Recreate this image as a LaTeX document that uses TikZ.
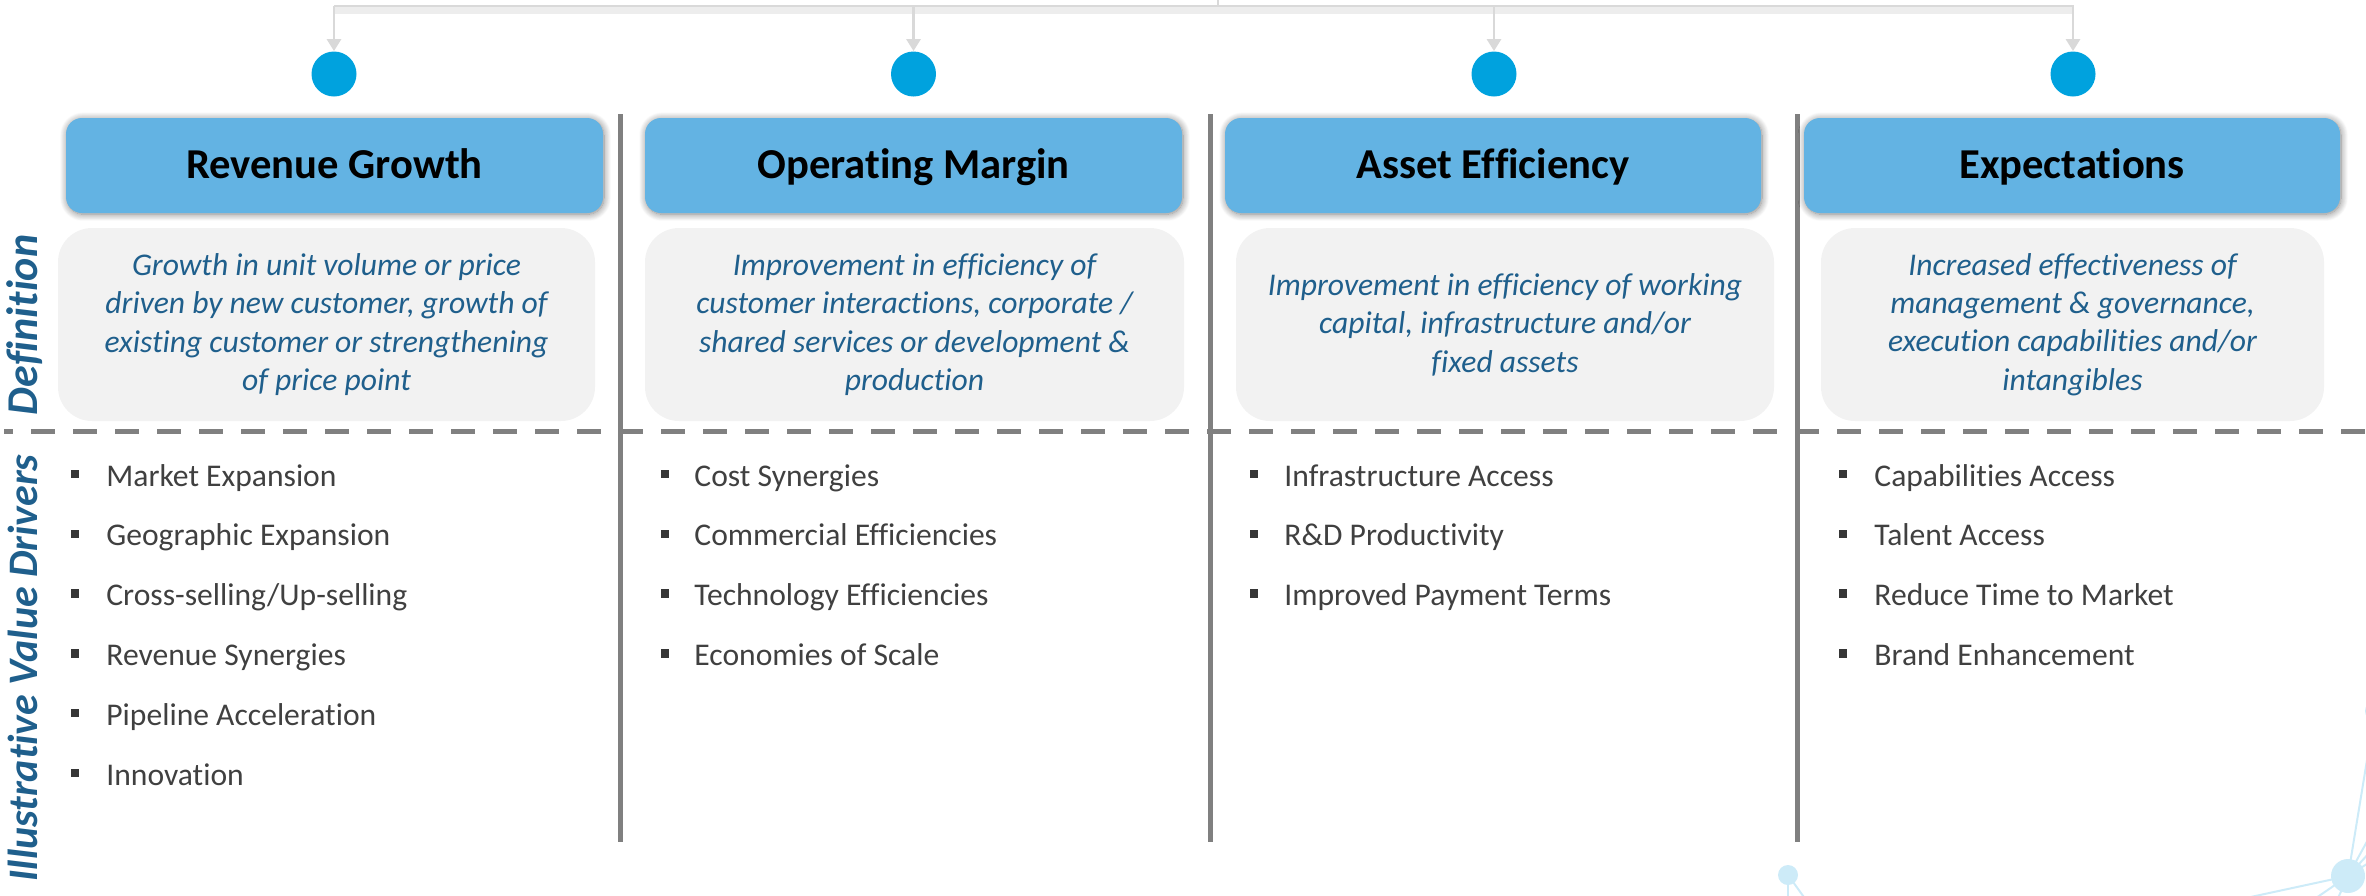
\documentclass[tikz,border=0pt]{standalone}
\usepackage{fontspec}
\setmainfont{Carlito}[Ligatures=NoCommon]
\usetikzlibrary{arrows.meta,shadows.blur}

\definecolor{hdrblue}{RGB}{99,179,227}
\definecolor{dotblue}{RGB}{0,162,222}
\definecolor{defgrey}{RGB}{242,242,242}
\definecolor{deftext}{RGB}{31,95,140}
\definecolor{rulegrey}{RGB}{128,128,128}
\definecolor{bodytext}{RGB}{64,64,64}
\definecolor{linkgrey}{RGB}{217,217,217}
\definecolor{netblue}{RGB}{205,235,248}

\tikzset{
  hdrbox/.style={fill=hdrblue, rounded corners=8pt, minimum height=47.5pt,
    inner sep=0pt, text height=13pt, text depth=0pt, text=black,
    font=\fontsize{21.3}{25}\selectfont\bfseries,
    blur shadow={shadow xshift=0.5pt, shadow yshift=-0.6pt,
      shadow blur radius=3.5pt, shadow blur steps=10, shadow opacity=50}},
  defbox/.style={fill=defgrey, rounded corners=17pt, minimum height=96.5pt,
    inner sep=0pt, align=center, text=deftext,
    font=\fontsize{15.8}{19.2}\selectfont\itshape},
  sidelabel/.style={rotate=90, anchor=base, inner sep=0pt, text=deftext,
    font=\fontsize{22}{26}\selectfont\bfseries\itshape},
  hubdot/.style={circle, fill=dotblue, minimum size=22.5pt, inner sep=0pt},
  feedline/.style={draw=linkgrey, line width=1.4pt},
  feedshadow/.style={draw=black, opacity=0.07, line width=4pt},
  feedarrow/.style={feedline, -{Triangle[width=7pt,length=6pt]}},
  divider/.style={draw=rulegrey, line width=2.5pt},
  sectionrule/.style={draw=rulegrey, line width=2.5pt,
    dash pattern=on 12pt off 9pt, dash phase=7.5pt},
  bulletmark/.style={fill=bodytext!85!black, minimum size=4.2pt, inner sep=0pt},
  bullettext/.style={anchor=base west, inner sep=0pt, text=bodytext,
    font=\fontsize{15.8}{19}\selectfont},
  netline/.style={draw=netblue, line width=1pt},
  netnode/.style={fill=netblue}
}

\begin{document}
\begin{tikzpicture}[x=0.5pt, y=-0.5pt]
  \useasboundingbox (0,0) rectangle (2366,895);
  \clip (0,0) rectangle (2366,895);

  % feed bus along the top, with a soft shadow under it
  \coordinate (feed) at (1218,-4);
  \coordinate (busL) at (334,6);
  \coordinate (busR) at (2074,6);
  \coordinate (tap1) at (334,6);
  \coordinate (tap2) at (913.5,6);
  \coordinate (tap3) at (1494,6);
  \coordinate (tap4) at (2073,6);
  \draw[feedshadow] ([yshift=-2pt]busL) -- ([yshift=-2pt]busR);

  % blue hub dots
  \node[hubdot] (dot1) at (334,74) {};
  \node[hubdot] (dot2) at (913.5,74) {};
  \node[hubdot] (dot3) at (1494,74) {};
  \node[hubdot] (dot4) at (2073,74) {};

  \draw[feedline] (feed) |- (busL);
  \draw[feedline] (busL) -- (busR);
  \foreach \i in {1,...,4}
    \draw[feedarrow] (tap\i) -- (dot\i.north);

  % column dividers
  \coordinate (divAt) at (620,114);  \coordinate (divAb) at (620,842);
  \coordinate (divBt) at (1210,114); \coordinate (divBb) at (1210,842);
  \coordinate (divCt) at (1797,114); \coordinate (divCb) at (1797,842);
  \draw[divider] (divAt) -- (divAb);
  \draw[divider] (divBt) -- (divBb);
  \draw[divider] (divCt) -- (divCb);

  % dashed rule between definitions and drivers
  \coordinate (ruleL) at (4,431);
  \coordinate (ruleR) at (2366,431);
  \draw[sectionrule] (ruleL) -- (ruleR);

  % column headers
  \node[hdrbox, minimum width=268.5pt] (hdr1) at (334.5,165.5) {Revenue Growth};
  \node[hdrbox, minimum width=268.5pt] (hdr2) at (913.5,165.5) {Operating Margin};
  \node[hdrbox, minimum width=268pt]   (hdr3) at (1493,165.5)  {Asset Efficiency};
  \node[hdrbox, minimum width=268pt]   (hdr4) at (2072,165.5)  {Expectations};

  % definitions
  \node[defbox, minimum width=268.5pt] (def1) at (326.5,324.5)
    {Growth in unit volume or price\\driven by new customer, growth of\\existing customer or strengthening\\of price point};
  \node[defbox, minimum width=269.5pt] (def2) at (914.5,324.5)
    {Improvement in efficiency of\\customer interactions, corporate /\\shared services or development \&\\production};
  \node[defbox, minimum width=269pt] (def3) at (1505,324.5)
    {Improvement in efficiency of working\\capital, infrastructure and/or\\fixed assets};
  \node[defbox, minimum width=251.5pt] (def4) at (2072.5,324.5)
    {Increased effectiveness of\\management \& governance,\\execution capabilities and/or\\intangibles};

  % row labels
  \node[sidelabel] (lblDef) at (37,325) {Definition};
  \node[sidelabel, font=\fontsize{21}{25}\selectfont\bfseries\itshape]
    (lblDrv) at (37,668) {Illustrative Value Drivers};

  % value driver lists
  \foreach \col/\bx/\tx/\items in {
      1/75/106/{Market Expansion,Geographic Expansion,Cross-selling/Up-selling,Revenue Synergies,Pipeline Acceleration,Innovation},
      2/665/694/{Cost Synergies,Commercial Efficiencies,Technology Efficiencies,Economies of Scale},
      3/1254/1284/{Infrastructure Access,R\&D Productivity,Improved Payment Terms},
      4/1843/1874/{Capabilities Access,Talent Access,Reduce Time to Market,Brand Enhancement}} {
    \foreach \item [count=\r from 0] in \items {
      \node[bulletmark] (b\col-\r) at (\bx,{474+59.8*\r}) {};
      \node[bullettext] (t\col-\r) at (\tx,{486+59.8*\r}) {\item};
    }
  }

  % light network ornament, bottom right
  \coordinate (nA) at (1788,875);
  \coordinate (nB) at (2348,876);
  \coordinate (nC) at (2375,711);
  \draw[netline] (nA) -- (1788,900);
  \draw[netline] (nA) -- (1806,900);
  \draw[netline] (nB) -- (nC);
  \draw[netline] (nB) -- (2246,898);
  \draw[netline] (nB) -- (2316,898);
  \draw[netline] (nB) -- (2338,898);
  \draw[netline] (nB) -- (2370,836);
  \draw[netline] (nB) -- (2370,852);
  \draw[netline] (nB) -- (2370,862);
  \fill[netnode] (nA) circle (5pt);
  \fill[netnode] (nB) circle (8.5pt);
  \fill[netnode] (nC) circle (5pt);
\end{tikzpicture}
\end{document}
